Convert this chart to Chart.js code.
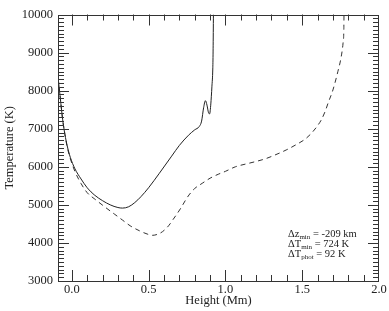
<!DOCTYPE html>
<html>
<head>
<meta charset="utf-8">
<script src="https://cdn.jsdelivr.net/npm/chart.js@4.4.1/dist/chart.umd.min.js"></script>
<style>
  html, body { margin: 0; padding: 0; background: #fff; }
  canvas { display: block; }
</style>
</head>
<body>
<canvas id="chart" width="389" height="311"></canvas>
<script>
// solid curve: height (Mm) / temperature (K)
const solidH = [-0.089, -0.075, -0.06, -0.045, -0.03, -0.01, 0.02, 0.06, 0.1, 0.15, 0.2, 0.25, 0.3, 0.33, 0.37,
  0.41, 0.45, 0.5, 0.57, 0.65, 0.7, 0.76, 0.8, 0.83, 0.845, 0.858, 0.87, 0.88, 0.89, 0.897, 0.905, 0.912, 0.918,
  0.92, 0.922];
const solidT = [8330, 7800, 7250, 6850, 6550, 6250, 5950, 5680, 5450, 5250, 5110, 5000, 4930, 4915, 4950,
  5060, 5215, 5450, 5830, 6280, 6560, 6830, 6970, 7060, 7200, 7550, 7736, 7620, 7420, 7390, 7650, 8100, 8600,
  9100, 10000];

// dashed curve
const dashH = [-0.089, -0.075, -0.06, -0.045, -0.03, -0.01, 0.02, 0.06, 0.1, 0.15, 0.22, 0.28, 0.33, 0.38, 0.44,
  0.49, 0.526, 0.56, 0.59, 0.63, 0.66, 0.709, 0.741, 0.763, 0.8, 0.849, 0.9, 0.957, 1.0, 1.065, 1.13, 1.194,
  1.26, 1.323, 1.4, 1.46, 1.517, 1.56, 1.6, 1.624, 1.65, 1.668, 1.7, 1.732, 1.754, 1.766, 1.771, 1.772];
const dashT = [8330, 7800, 7250, 6850, 6520, 6220, 5880, 5560, 5320, 5150, 4930, 4750, 4600, 4450, 4320,
  4235, 4200, 4230, 4295, 4450, 4620, 4910, 5128, 5260, 5430, 5566, 5700, 5810, 5880, 6000, 6070, 6134,
  6210, 6310, 6450, 6580, 6720, 6880, 7080, 7230, 7460, 7668, 8018, 8498, 8892, 9250, 9600, 10000];

const xTicks = [0.0, 0.5, 1.0, 1.5, 2.0];
const yTicks = [3000, 4000, 5000, 6000, 7000, 8000, 9000, 10000];

// annotation lines: [main, subscript, rest]
const notes = [
  ['\u0394z', 'min', ' = -209 km'],
  ['\u0394T', 'min', ' = 724 K'],
  ['\u0394T', 'phot', ' = 92 K'],
];

const FONT = 'Liberation Serif';
const INK = '#222';

function toPoints(xs, ys) {
  return xs.map((v, i) => ({ x: v, y: ys[i] }));
}

// inward ticks on all four sides + frame
const frameTicks = {
  id: 'frameTicks',
  afterDraw(chart) {
    const { ctx, chartArea: a } = chart;
    const x = chart.scales.x;
    const y = chart.scales.y;
    ctx.save();
    ctx.strokeStyle = '#333';
    ctx.lineWidth = 1;
    ctx.strokeRect(Math.round(a.left) + 0.5, Math.round(a.top) + 0.5,
      Math.round(a.right - a.left) - 1, Math.round(a.bottom - a.top) - 1);
    ctx.beginPath();
    for (let i = 0; i <= 20; i++) {
      const px = Math.round(x.getPixelForValue(i / 10)) + 0.5;
      if (px <= a.left || px >= a.right) continue;
      const len = i % 5 === 0 ? 11 : 6;
      ctx.moveTo(px, a.bottom); ctx.lineTo(px, a.bottom - len);
      ctx.moveTo(px, a.top); ctx.lineTo(px, a.top + len);
    }
    for (let v = 3000; v <= 10000; v += 100) {
      const py = Math.round(y.getPixelForValue(v)) + 0.5;
      if (py <= a.top + 1 || py >= a.bottom - 1) continue;
      const len = v % 1000 === 0 ? 11 : 6;
      ctx.moveTo(a.left, py); ctx.lineTo(a.left + len, py);
      ctx.moveTo(a.right, py); ctx.lineTo(a.right - len, py);
    }
    ctx.stroke();

    // annotation text with subscripts
    ctx.fillStyle = INK;
    ctx.textBaseline = 'alphabetic';
    let ty = 237;
    notes.forEach((n) => {
      let tx = 288;
      ctx.font = '10.5px "' + FONT + '"';
      ctx.fillText(n[0], tx, ty);
      tx += ctx.measureText(n[0]).width;
      ctx.font = '7px "' + FONT + '"';
      ctx.fillText(n[1], tx, ty + 2);
      tx += ctx.measureText(n[1]).width;
      ctx.font = '10.5px "' + FONT + '"';
      ctx.fillText(n[2], tx, ty);
      ty += 10;
    });
    ctx.restore();
  },
};

new Chart(document.getElementById('chart'), {
  type: 'line',
  data: {
    datasets: [
      {
        data: toPoints(solidH, solidT),
        borderColor: INK,
        borderWidth: 1,
        pointRadius: 0,
        fill: false,
        cubicInterpolationMode: 'monotone',
      },
      {
        data: toPoints(dashH, dashT),
        borderColor: '#333',
        borderWidth: 1,
        borderDash: [5, 4],
        pointRadius: 0,
        fill: false,
        cubicInterpolationMode: 'monotone',
      },
    ],
  },
  options: {
    responsive: false,
    animation: false,
    devicePixelRatio: 1,
    layout: { padding: { top: 14.5, right: 10, left: 0, bottom: 0 } },
    plugins: {
      legend: { display: false },
      tooltip: { enabled: false },
    },
    scales: {
      x: {
        type: 'linear',
        min: -0.09,
        max: 2.0,
        grid: { display: false, drawTicks: false },
        border: { display: false },
        afterBuildTicks: (s) => { s.ticks = xTicks.map((v) => ({ value: v })); },
        afterFit: (s) => { s.height = 30; },
        ticks: {
          autoSkip: false,
          maxRotation: 0,
          padding: 1,
          color: INK,
          font: { family: FONT, size: 12.5 },
          callback: (v) => Number(v).toFixed(1),
        },
        title: {
          display: true,
          text: 'Height (Mm)',
          color: INK,
          font: { family: FONT, size: 12.5 },
          padding: { top: 0, bottom: 3 },
        },
      },
      y: {
        min: 3000,
        max: 10000,
        grid: { display: false, drawTicks: false },
        border: { display: false },
        afterBuildTicks: (s) => { s.ticks = yTicks.map((v) => ({ value: v })); },
        afterFit: (s) => { s.width = 58; },
        ticks: {
          padding: 5,
          color: INK,
          font: { family: FONT, size: 12.5 },
          callback: (v) => String(v),
        },
        title: {
          display: true,
          text: 'Temperature (K)',
          color: INK,
          font: { family: FONT, size: 12.5 },
          padding: { top: 2.5, bottom: 0 },
        },
      },
    },
  },
  plugins: [frameTicks],
});
</script>
</body>
</html>
